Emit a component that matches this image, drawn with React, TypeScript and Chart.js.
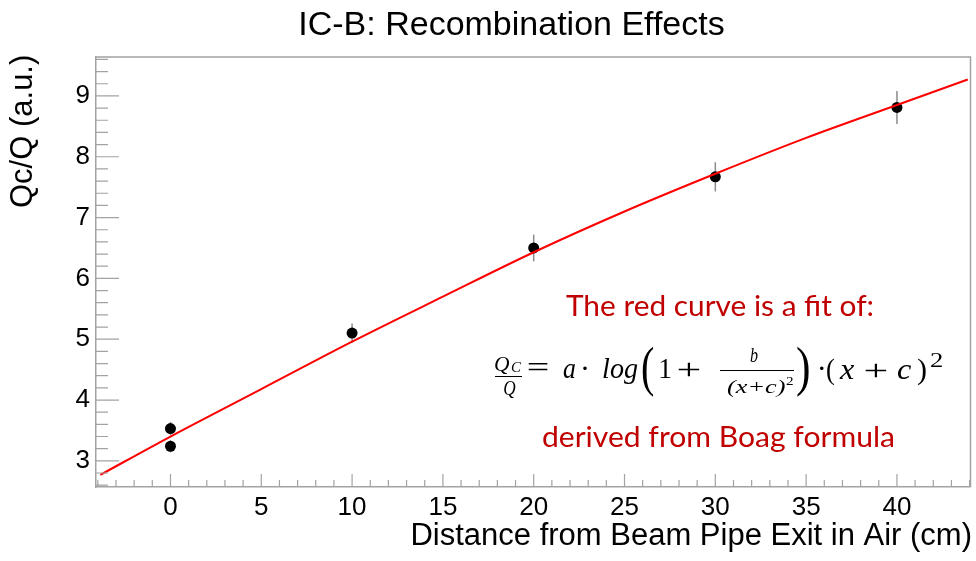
import { useEffect, useRef } from "react";
import { Chart, registerables } from "chart.js";

Chart.register(...registerables);

// ---- data ----
const measuredX = [0, 0, 10, 20, 30, 40];
const measuredY = [3.53, 3.24, 5.1, 6.5, 7.67, 8.81];
const measuredErr = [0.11, 0.1, 0.16, 0.22, 0.24, 0.27];

const fitX = [-3.86, 0, 5, 10, 15, 20, 25, 30, 35, 40, 43.9];
const fitY = [2.77, 3.4, 4.18, 4.96, 5.7, 6.43, 7.1, 7.72, 8.31, 8.85, 9.27];

const xTicks = [0, 5, 10, 15, 20, 25, 30, 35, 40];
const yTicks = [3, 4, 5, 6, 7, 8, 9];
const xRange = [-4.1, 44.05];
const yRange = [2.57, 9.64];

const titleText = "IC-B: Recombination Effects";
const xTitle = "Distance from Beam Pipe Exit in Air (cm)";
const yTitle = "Qc/Q (a.u.)";
const note1 = "The red curve is a fit of:";
const note2 = "derived from Boag formula";

// ---- styles ----
const AXIS = "#a3a3a3";
const SANS = "'Liberation Sans', Arial, sans-serif";
const NOTE_FONT = "Lato, 'Open Sans', sans-serif";
const MATH = "'Liberation Serif', 'DejaVu Serif', serif";
const NOTE_RED = "#c00000";

function inkText(ctx: CanvasRenderingContext2D, s: string, font: string, x0: number, x1: number, baseline: number, color: string) {
  ctx.save();
  ctx.font = font;
  ctx.fillStyle = color;
  ctx.textAlign = "left";
  ctx.textBaseline = "alphabetic";
  const m = ctx.measureText(s);
  const w = m.actualBoundingBoxLeft + m.actualBoundingBoxRight;
  const sx = (x1 - x0) / w;
  ctx.translate(x0, 0);
  ctx.scale(sx, 1);
  ctx.fillText(s, m.actualBoundingBoxLeft, baseline);
  ctx.restore();
}

function boxText(ctx: CanvasRenderingContext2D, s: string, font: string, x0: number, x1: number, y0: number, y1: number, color: string) {
  ctx.save();
  ctx.font = font;
  ctx.fillStyle = color;
  ctx.textAlign = "left";
  ctx.textBaseline = "alphabetic";
  const m = ctx.measureText(s);
  const w = m.actualBoundingBoxLeft + m.actualBoundingBoxRight;
  const h = m.actualBoundingBoxAscent + m.actualBoundingBoxDescent;
  ctx.translate(x0, y0);
  ctx.scale((x1 - x0) / w, (y1 - y0) / h);
  ctx.fillText(s, m.actualBoundingBoxLeft, m.actualBoundingBoxAscent);
  ctx.restore();
}

function centerText(ctx: CanvasRenderingContext2D, s: string, font: string, cx: number, baseline: number, color: string) {
  ctx.save();
  ctx.font = font;
  ctx.fillStyle = color;
  ctx.textAlign = "center";
  ctx.textBaseline = "alphabetic";
  ctx.fillText(s, cx, baseline);
  ctx.restore();
}

const decorPlugin = {
  id: "rootDecor",
  beforeDatasetsDraw(chart: any) {
    const ctx: CanvasRenderingContext2D = chart.ctx;
    const xs = chart.scales.x;
    const ys = chart.scales.y;
    ctx.save();
    ctx.strokeStyle = "#8c8c8c";
    ctx.lineWidth = 1.5;
    for (let i = 0; i < measuredX.length; i++) {
      const px = xs.getPixelForValue(measuredX[i]);
      const y1 = ys.getPixelForValue(measuredY[i] + measuredErr[i]);
      const y2 = ys.getPixelForValue(measuredY[i] - measuredErr[i]);
      ctx.beginPath();
      ctx.moveTo(px, y1);
      ctx.lineTo(px, y2);
      ctx.stroke();
    }
    ctx.restore();
  },
  afterDraw(chart: any) {
    const ctx: CanvasRenderingContext2D = chart.ctx;
    const xs = chart.scales.x;
    const ys = chart.scales.y;
    const { left, right, top, bottom } = chart.chartArea;
    ctx.save();
    // frame top / right
    ctx.strokeStyle = AXIS;
    ctx.lineWidth = 1.5;
    ctx.beginPath();
    ctx.moveTo(left, top);
    ctx.lineTo(right, top);
    ctx.lineTo(right, bottom);
    ctx.stroke();
    // inward ticks
    ctx.lineWidth = 1.2;
    ctx.beginPath();
    for (let v = Math.ceil(xRange[0]); v <= Math.floor(xRange[1]); v++) {
      const p = xs.getPixelForValue(v);
      const len = v % 5 === 0 ? 13 : 7;
      ctx.moveTo(p, bottom);
      ctx.lineTo(p, bottom - len);
    }
    for (let k = Math.ceil(yRange[0] * 5); k <= Math.floor(yRange[1] * 5); k++) {
      const p = ys.getPixelForValue(k / 5);
      const len = k % 5 === 0 ? 23 : 12;
      ctx.moveTo(left, p);
      ctx.lineTo(left + len, p);
    }
    ctx.stroke();
    ctx.restore();

    // titles
    centerText(ctx, titleText, `34px ${SANS}`, 511.5, 35, "#000");
    ctx.save();
    ctx.font = `31px ${SANS}`;
    ctx.fillStyle = "#000";
    ctx.textAlign = "right";
    ctx.textBaseline = "alphabetic";
    ctx.fillText(xTitle, 972, 545);
    ctx.translate(32, 208);
    ctx.rotate(-Math.PI / 2);
    ctx.textAlign = "left";
    ctx.fillText(yTitle, 0, 0);
    ctx.restore();

    // annotation
    inkText(ctx, note1, `28px ${NOTE_FONT}`, 566, 873, 316, NOTE_RED);
    inkText(ctx, note2, `28px ${NOTE_FONT}`, 543, 894, 447, NOTE_RED);

    // formula
    const K = "#000";
    const it = (px: number) => `italic ${px}px ${MATH}`;
    const rm = (px: number) => `${px}px ${MATH}`;
    inkText(ctx, "Q", it(20), 495, 510, 371, K);
    inkText(ctx, "C", it(15), 511, 522, 372, K);
    ctx.save();
    ctx.strokeStyle = K;
    ctx.lineWidth = 1;
    ctx.beginPath();
    ctx.moveTo(495, 376.5);
    ctx.lineTo(522, 376.5);
    ctx.moveTo(720, 370.5);
    ctx.lineTo(794, 370.5);
    ctx.stroke();
    ctx.restore();
    inkText(ctx, "Q", it(20), 504, 516, 395, K);
    inkText(ctx, "=", rm(30), 528, 548, 377, K);
    inkText(ctx, "a", it(30), 563, 575, 378, K);
    centerText(ctx, "·", rm(30), 585, 378, K);
    inkText(ctx, "log", it(30), 603, 638, 378, K);
    boxText(ctx, "(", rm(40), 642, 654, 347, 397, K);
    inkText(ctx, "1", rm(30), 660, 671, 378, K);
    inkText(ctx, "+", rm(30), 678, 700, 379, K);
    inkText(ctx, "b", it(20), 750, 758, 362, K);
    inkText(ctx, "(x+c)", it(19), 727, 785, 393, K);
    inkText(ctx, "2", rm(13), 786, 793, 385, K);
    boxText(ctx, ")", rm(40), 797, 809, 347, 397, K);
    centerText(ctx, "·", rm(30), 821.7, 378, K);
    inkText(ctx, "(", rm(30), 827, 835, 379, K);
    inkText(ctx, "x", it(30), 839, 855, 379, K);
    inkText(ctx, "+", rm(30), 865, 887, 380, K);
    inkText(ctx, "c", it(30), 897, 911, 379, K);
    inkText(ctx, ")", rm(30), 917, 926, 379, K);
    inkText(ctx, "2", rm(20), 930, 942, 367, K);
  },
};

export default function App() {
  const ref = useRef<HTMLCanvasElement | null>(null);

  useEffect(() => {
    if (!ref.current) return;
    const chart = new Chart(ref.current, {
      type: "scatter",
      data: {
        datasets: [
          {
            type: "line",
            label: "fit",
            data: fitX.map((x, i) => ({ x, y: fitY[i] })),
            borderColor: "#ff0000",
            borderWidth: 2,
            pointRadius: 0,
            fill: false,
            cubicInterpolationMode: "monotone",
            order: 0,
          } as any,
          {
            type: "scatter",
            label: "data",
            data: measuredX.map((x, i) => ({ x, y: measuredY[i] })),
            backgroundColor: "#000",
            borderColor: "#000",
            borderWidth: 0,
            pointRadius: 5.5,
            order: 1,
          },
        ],
      },
      options: {
        animation: false,
        responsive: false,
        devicePixelRatio: 1,
        events: [],
        layout: { padding: { top: 57, right: 4, left: 0, bottom: 0 } },
        plugins: {
          legend: { display: false },
          tooltip: { enabled: false },
          title: { display: false },
        },
        scales: {
          x: {
            type: "linear",
            min: xRange[0],
            max: xRange[1],
            grid: { display: false, drawTicks: false },
            border: { display: true, color: AXIS, width: 1.5 },
            ticks: {
              color: "#000",
              font: { family: SANS, size: 26 },
              padding: 5,
              maxRotation: 0,
              autoSkip: false,
            },
            afterBuildTicks: (s: any) => {
              s.ticks = xTicks.map((v) => ({ value: v }));
            },
            afterFit: (s: any) => {
              s.height = 74;
            },
          },
          y: {
            type: "linear",
            min: yRange[0],
            max: yRange[1],
            grid: { display: false, drawTicks: false },
            border: { display: true, color: AXIS, width: 1.5 },
            ticks: {
              color: "#000",
              font: { family: SANS, size: 26 },
              padding: 6,
              autoSkip: false,
            },
            afterBuildTicks: (s: any) => {
              s.ticks = yTicks.map((v) => ({ value: v }));
            },
            afterFit: (s: any) => {
              s.width = 96;
            },
          },
        },
      },
      plugins: [decorPlugin],
    });
    return () => chart.destroy();
  }, []);

  return (
    <div style={{ position: "absolute", left: 0, top: 0, width: 976, height: 561, background: "#fff" }}>
      <canvas ref={ref} width={976} height={561} style={{ display: "block" }} />
    </div>
  );
}
